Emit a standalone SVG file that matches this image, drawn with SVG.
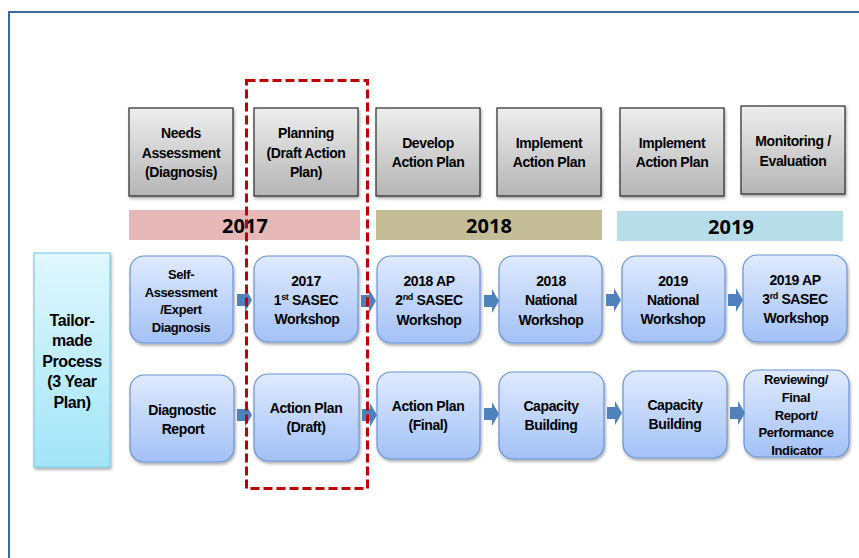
<svg xmlns="http://www.w3.org/2000/svg" width="859" height="558" viewBox="0 0 859 558">
<defs>
<linearGradient id="gGray" x1="0" y1="0" x2="0" y2="1"><stop offset="0" stop-color="#eeeeee"/><stop offset="1" stop-color="#b5b5b5"/></linearGradient>
<linearGradient id="gBlue" x1="0" y1="0" x2="0" y2="1"><stop offset="0" stop-color="#dfeafe"/><stop offset="1" stop-color="#a3c1f6"/></linearGradient>
<linearGradient id="gCyan" x1="0" y1="0" x2="0" y2="1"><stop offset="0" stop-color="#e0f7fd"/><stop offset="1" stop-color="#a2e5f8"/></linearGradient>
<filter id="sh" x="-10%" y="-10%" width="130%" height="130%"><feDropShadow dx="1" dy="2" stdDeviation="1.5" flood-color="#000" flood-opacity="0.35"/></filter>
<path id="arr" d="M0,-6 H8 V-12 L15,0 L8,12 V6 H0 Z" fill="#4f81bd"/>
</defs>
<style>
.gray{fill:url(#gGray);stroke:#2b2b2b;stroke-width:1.2;filter:url(#sh)}
.blue{fill:url(#gBlue);stroke:#6a93d8;stroke-width:1.2;filter:url(#sh)}
.t{font-family:"Liberation Sans",Arial,sans-serif;font-weight:bold;font-size:14px;letter-spacing:-0.4px;fill:#000;text-anchor:middle}
.s{font-size:13px}
.yr{font-family:"Noto Sans","DejaVu Sans",sans-serif;font-weight:bold;font-size:20px;fill:#000;text-anchor:middle}
.sup{font-size:9px}
</style>
<rect width="859" height="558" fill="#fff"/>
<path d="M9,558 V12 H859" fill="none" stroke="#44679a" stroke-width="2"/>

<g id="year-bars">
<rect x="129" y="210" width="231" height="30" fill="#e6b8b7"/>
<rect x="376" y="210" width="226" height="30" fill="#c4bd97"/>
<rect x="617" y="211" width="226" height="30" fill="#b7dde8"/>
<text class="yr" x="245" y="233">2017</text>
<text class="yr" x="489" y="233">2018</text>
<text class="yr" x="731" y="234">2019</text>
</g>

<g id="h1"><rect class="gray" x="129" y="108" width="104" height="88"/><text class="t"><tspan x="181" y="138">Needs</tspan><tspan x="181" y="158">Assessment</tspan><tspan x="181" y="177">(Diagnosis)</tspan></text></g>
<g id="h2"><rect class="gray" x="254" y="108" width="104" height="88"/><text class="t"><tspan x="306" y="138">Planning</tspan><tspan x="306" y="158">(Draft  Action</tspan><tspan x="306" y="177">Plan)</tspan></text></g>
<g id="h3"><rect class="gray" x="376" y="108" width="104" height="88"/><text class="t"><tspan x="428" y="148">Develop</tspan><tspan x="428" y="167">Action Plan</tspan></text></g>
<g id="h4"><rect class="gray" x="497" y="108" width="104" height="88"/><text class="t"><tspan x="549" y="148">Implement</tspan><tspan x="549" y="167">Action Plan</tspan></text></g>
<g id="h5"><rect class="gray" x="620" y="108" width="104" height="88"/><text class="t"><tspan x="672" y="148">Implement</tspan><tspan x="672" y="167">Action Plan</tspan></text></g>
<g id="h6"><rect class="gray" x="741" y="106" width="104" height="88"/><text class="t"><tspan x="793" y="146">Monitoring /</tspan><tspan x="793" y="166">Evaluation</tspan></text></g>

<g id="tailor"><rect x="34" y="253" width="76" height="214" fill="url(#gCyan)" stroke="#7dcfe6" stroke-width="1.2" filter="url(#sh)"/><text class="t" style="font-size:16px"><tspan x="72" y="326">Tailor-</tspan><tspan x="72" y="346">made</tspan><tspan x="72" y="367">Process</tspan><tspan x="72" y="387">(3 Year</tspan><tspan x="72" y="408">Plan)</tspan></text></g>

<g id="r1a"><rect class="blue" x="130" y="256" width="103" height="87" rx="14"/><text class="t s"><tspan x="181" y="279">Self-</tspan><tspan x="181" y="297">Assessment</tspan><tspan x="181" y="314">/Expert</tspan><tspan x="181" y="332">Diagnosis</tspan></text></g>
<g id="r1b"><rect class="blue" x="254" y="256" width="104" height="86" rx="14"/><text class="t"><tspan x="306" y="286">2017</tspan><tspan x="306" y="305">1<tspan class="sup" dy="-5">st</tspan><tspan dy="5"> SASEC</tspan></tspan><tspan x="307" y="324">Workshop</tspan></text></g>
<g id="r1c"><rect class="blue" x="377" y="256" width="103" height="87" rx="14"/><text class="t"><tspan x="429" y="286">2018 AP</tspan><tspan x="429" y="305">2<tspan class="sup" dy="-5">nd</tspan><tspan dy="5"> SASEC</tspan></tspan><tspan x="429" y="325">Workshop</tspan></text></g>
<g id="r1d"><rect class="blue" x="499" y="256" width="103" height="87" rx="14"/><text class="t"><tspan x="551" y="286">2018</tspan><tspan x="551" y="305">National</tspan><tspan x="551" y="325">Workshop</tspan></text></g>
<g id="r1e"><rect class="blue" x="622" y="256" width="103" height="86" rx="14"/><text class="t"><tspan x="673" y="286">2019</tspan><tspan x="673" y="305">National</tspan><tspan x="673" y="324">Workshop</tspan></text></g>
<g id="r1f"><rect class="blue" x="743" y="255" width="104" height="87" rx="14"/><text class="t"><tspan x="795" y="285">2019 AP</tspan><tspan x="795" y="304">3<tspan class="sup" dy="-5">rd</tspan><tspan dy="5"> SASEC</tspan></tspan><tspan x="796" y="323">Workshop</tspan></text></g>

<g id="r2a"><rect class="blue" x="130" y="375" width="104" height="87" rx="14"/><text class="t"><tspan x="182" y="415">Diagnostic</tspan><tspan x="183" y="434">Report</tspan></text></g>
<g id="r2b"><rect class="blue" x="254" y="374" width="105" height="87" rx="14"/><text class="t"><tspan x="306" y="413">Action Plan</tspan><tspan x="306" y="432">(Draft)</tspan></text></g>
<g id="r2c"><rect class="blue" x="377" y="372" width="103" height="87" rx="14"/><text class="t"><tspan x="428" y="411">Action Plan</tspan><tspan x="428" y="430">(Final)</tspan></text></g>
<g id="r2d"><rect class="blue" x="499" y="372" width="105" height="87" rx="14"/><text class="t"><tspan x="551" y="411">Capacity</tspan><tspan x="551" y="430">Building</tspan></text></g>
<g id="r2e"><rect class="blue" x="623" y="371" width="104" height="87" rx="14"/><text class="t"><tspan x="675" y="410">Capacity</tspan><tspan x="675" y="429">Building</tspan></text></g>
<g id="r2f"><rect class="blue" x="744" y="370" width="105" height="87" rx="14"/><text class="t s"><tspan x="796" y="384">Reviewing/</tspan><tspan x="796" y="402">Final</tspan><tspan x="796" y="420">Report/</tspan><tspan x="796" y="437">Performance</tspan><tspan x="797" y="455">Indicator</tspan></text></g>

<g id="connectors">
<use href="#arr" x="237" y="300"/>
<use href="#arr" x="361" y="301"/>
<use href="#arr" x="484" y="301"/>
<use href="#arr" x="606" y="300"/>
<use href="#arr" x="728" y="300"/>
<use href="#arr" x="237" y="415"/>
<use href="#arr" x="362" y="415"/>
<use href="#arr" x="484" y="414"/>
<use href="#arr" x="607" y="413"/>
<use href="#arr" x="730" y="413"/>
</g>

<g id="highlight"><rect x="246.5" y="80.5" width="121" height="408" fill="none" stroke="#c00000" stroke-width="3" stroke-dasharray="9,4"/></g>
</svg>
